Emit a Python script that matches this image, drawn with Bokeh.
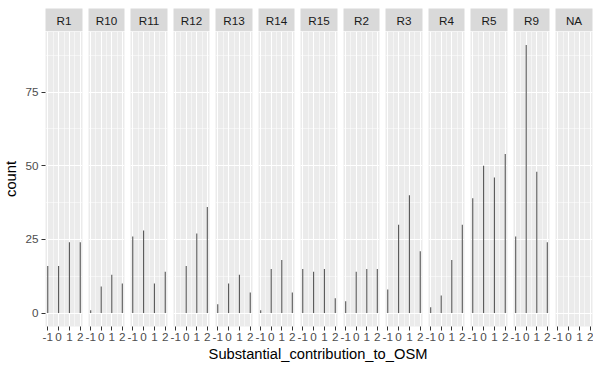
from bokeh.plotting import figure
from bokeh.layouts import row, column
from bokeh.models import FixedTicker, Label, Range1d, LinearAxis, Grid, ColumnDataSource
from bokeh.embed import file_html
from bokeh.resources import INLINE

# ---------------- data ----------------
regions = ["R1", "R10", "R11", "R12", "R13", "R14", "R15", "R2", "R3", "R4", "R5", "R9", "NA"]
x_values = [-1, 0, 1, 2]
r1 = [16, 16, 24, 24]
r10 = [1, 9, 13, 10]
r11 = [26, 28, 10, 14]
r12 = [0, 16, 27, 36]
r13 = [3, 10, 13, 7]
r14 = [1, 15, 18, 7]
r15 = [15, 14, 15, 5]
r2 = [4, 14, 15, 15]
r3 = [8, 30, 40, 21]
r4 = [2, 6, 18, 30]
r5 = [39, 50, 46, 54]
r9 = [26, 91, 48, 24]
na = [0, 0, 0, 0]
counts = [r1, r10, r11, r12, r13, r14, r15, r2, r3, r4, r5, r9, na]

x_ticks = [-1, 0, 1, 2]
x_tick_labels = ["-1", "0", "1", "2"]
x_minor = [-0.5, 0.5, 1.5]
y_ticks = [0, 25, 50, 75]
y_minor = [12.5, 37.5, 62.5, 87.5]
x_title = "Substantial_contribution_to_OSM"
y_title = "count"

# ---------------- style ----------------
FONT = "Liberation Sans"
binw = 3 / 29
x_lo = min(x_values) - binw / 2
x_hi = max(x_values) + binw / 2
xpad = 0.05 * (x_hi - x_lo)
ymax = max(max(c) for c in counts)
ypad = 0.05 * ymax

TOP = 8
FRAME_H = 295
STRIP_H = 23
AXIS_W = 44
SIDE = 3
BOTTOM = 20
TITLE_H = 22
widths = [37 if i % 2 == 0 else 36 for i in range(len(regions))]


def left_axis():
    ax = LinearAxis(ticker=FixedTicker(ticks=y_ticks, minor_ticks=y_minor))
    ax.axis_label = y_title
    ax.axis_label_text_font = FONT
    ax.axis_label_text_font_size = "14.7px"
    ax.axis_label_text_font_style = "normal"
    ax.axis_label_text_color = "black"
    ax.axis_label_standoff = 3
    ax.major_label_text_font = FONT
    ax.major_label_text_font_size = "11.7px"
    ax.major_label_text_color = "#4D4D4D"
    ax.major_label_standoff = 3
    ax.major_tick_out = 4
    ax.major_tick_in = 0
    ax.minor_tick_line_color = None
    ax.axis_line_color = None
    ax.major_tick_line_color = "#333333"
    return ax


columns = []
n = len(regions)
for i, (name, c, fw) in enumerate(zip(regions, counts, widths)):
    first = i == 0
    last = i == n - 1
    lb = AXIS_W if first else SIDE
    rb = 1 if last else SIDE

    # strip
    s = figure(frame_width=fw, frame_height=STRIP_H, x_range=Range1d(0, 1), y_range=Range1d(0, 1),
               x_axis_location=None, y_axis_location=None, title=None, toolbar_location=None,
               output_backend="svg", min_border_left=lb, min_border_right=rb,
               min_border_top=TOP, min_border_bottom=0,
               background_fill_color="#D9D9D9", border_fill_color="white", outline_line_color=None)
    s.grid.visible = False
    s.add_layout(Label(x=0.5, y=0.5, text=name, text_align="center", text_baseline="middle",
                       text_font=FONT, text_font_size="11.7px", text_color="#1A1A1A"))

    # panel
    p = figure(frame_width=fw, frame_height=FRAME_H,
               x_range=Range1d(x_lo - xpad, x_hi + xpad), y_range=Range1d(-ypad, ymax + ypad),
               x_axis_location=None, y_axis_location=None, title=None, toolbar_location=None,
               output_backend="svg", min_border_left=lb, min_border_right=rb,
               min_border_top=0, min_border_bottom=BOTTOM,
               background_fill_color="#EBEBEB", border_fill_color="white", outline_line_color=None)
    p.grid.visible = False
    xt = FixedTicker(ticks=x_ticks, minor_ticks=x_minor)
    yt = FixedTicker(ticks=y_ticks, minor_ticks=y_minor)
    p.add_layout(Grid(dimension=0, ticker=xt, grid_line_color="white", grid_line_width=1.07,
                      minor_grid_line_color="white", minor_grid_line_width=0.53))
    p.add_layout(Grid(dimension=1, ticker=yt, grid_line_color="white", grid_line_width=1.07,
                      minor_grid_line_color="white", minor_grid_line_width=0.53))

    xa = LinearAxis(ticker=xt)
    xa.major_label_overrides = {t: lab for t, lab in zip(x_ticks, x_tick_labels)}
    xa.major_label_text_font = FONT
    xa.major_label_text_font_size = "11.7px"
    xa.major_label_text_color = "#4D4D4D"
    xa.major_label_standoff = 2
    xa.major_tick_out = 4
    xa.major_tick_in = 0
    xa.minor_tick_line_color = None
    xa.axis_line_color = None
    xa.major_tick_line_color = "#333333"
    p.add_layout(xa, "below")
    if first:
        p.add_layout(left_axis(), "left")

    src = ColumnDataSource(dict(x=x_values, count=c))
    p.vbar(x="x", top="count", bottom=0, width=binw, source=src,
           fill_color="#595959", line_color=None)

    columns.append(column(s, p, spacing=0))

panels = row(*columns, spacing=0)

area_w = sum(widths) + (n - 1) * 2 * SIDE
total_w = AXIS_W + area_w + 1
t = figure(width=total_w, height=TITLE_H, x_range=Range1d(0, total_w), y_range=Range1d(0, TITLE_H),
           x_axis_location=None, y_axis_location=None, title=None, toolbar_location=None,
           output_backend="svg", min_border=0, outline_line_color=None,
           background_fill_color="white", border_fill_color="white")
t.grid.visible = False
t.add_layout(Label(x=AXIS_W + area_w / 2, y=TITLE_H - 7.5, text=x_title, text_align="center",
                   text_baseline="middle", text_font=FONT, text_font_size="14.7px",
                   text_color="black"))

layout = column(panels, t, spacing=0)

open("out.html", "w").write(file_html(layout, INLINE))
